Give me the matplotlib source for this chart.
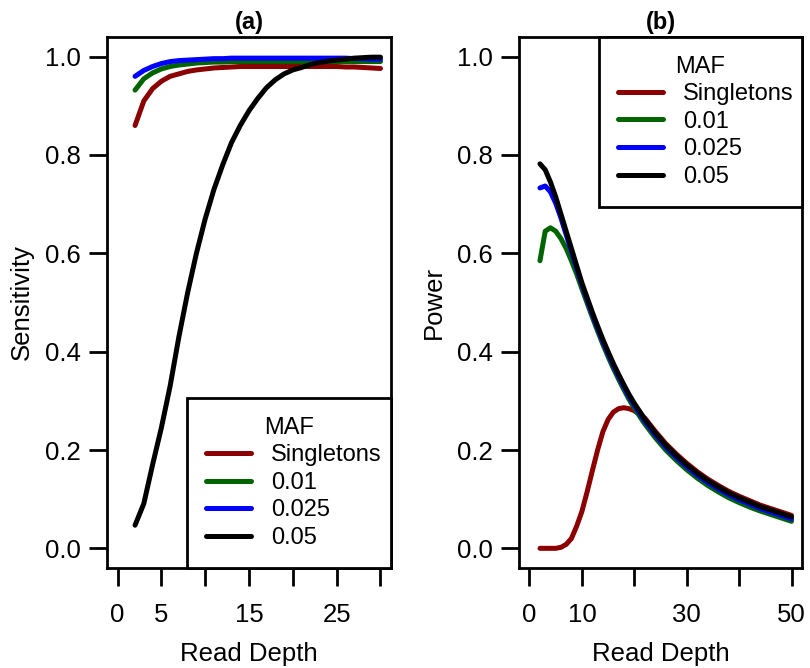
import matplotlib
matplotlib.use("Agg")
import matplotlib.pyplot as plt

plt.rcParams["font.family"] = ["Liberation Sans", "DejaVu Sans"]
plt.rcParams["font.size"] = 18.5

# ---- panel (a): sensitivity vs read depth ----
depth_a = list(range(2, 31))
sens_single = [0.860, 0.910, 0.935, 0.950, 0.960, 0.965, 0.970, 0.973, 0.975, 0.977,
               0.978, 0.979, 0.980, 0.980, 0.980, 0.980, 0.980, 0.980, 0.980, 0.980,
               0.980, 0.980, 0.980, 0.980, 0.979, 0.979, 0.978, 0.977, 0.976]
sens_001 = [0.932, 0.955, 0.967, 0.975, 0.980, 0.983, 0.985, 0.987, 0.988, 0.989,
            0.989, 0.990, 0.990, 0.990, 0.990, 0.990, 0.990, 0.990, 0.990, 0.990,
            0.990, 0.990, 0.990, 0.990, 0.990, 0.990, 0.990, 0.990, 0.990]
sens_0025 = [0.960, 0.972, 0.980, 0.986, 0.990, 0.992, 0.993, 0.994, 0.995, 0.996,
             0.996, 0.997, 0.997, 0.997, 0.997, 0.997, 0.997, 0.997, 0.997, 0.997,
             0.997, 0.997, 0.997, 0.997, 0.997, 0.996, 0.996, 0.995, 0.995]
sens_005 = [0.047, 0.091, 0.170, 0.245, 0.330, 0.430, 0.520, 0.600, 0.670, 0.730,
            0.780, 0.825, 0.860, 0.890, 0.915, 0.937, 0.953, 0.965, 0.973, 0.978,
            0.984, 0.988, 0.991, 0.993, 0.995, 0.997, 0.998, 0.999, 0.999]

# ---- panel (b): power vs read depth ----
depth_b = list(range(2, 21)) + list(range(22, 51, 2))
pow_single = [0.000, 0.000, 0.000, 0.000, 0.002, 0.008, 0.020, 0.045, 0.075, 0.115,
              0.158, 0.200, 0.237, 0.262, 0.277, 0.284, 0.286, 0.284, 0.280,
              0.265, 0.238, 0.213, 0.192, 0.173, 0.156, 0.141, 0.128, 0.116, 0.106,
              0.097, 0.088, 0.081, 0.074, 0.067]
pow_001 = [0.585, 0.645, 0.652, 0.645, 0.630, 0.610, 0.585, 0.558, 0.528, 0.499,
           0.470, 0.442, 0.415, 0.390, 0.366, 0.344, 0.323, 0.303, 0.285,
           0.253, 0.225, 0.200, 0.179, 0.160, 0.143, 0.128, 0.115, 0.103, 0.093,
           0.084, 0.076, 0.069, 0.062, 0.055]
pow_0025 = [0.733, 0.737, 0.725, 0.702, 0.672, 0.638, 0.604, 0.570, 0.536, 0.506,
            0.476, 0.448, 0.421, 0.396, 0.372, 0.350, 0.329, 0.309, 0.291,
            0.259, 0.231, 0.206, 0.185, 0.166, 0.149, 0.134, 0.121, 0.109, 0.099,
            0.090, 0.081, 0.074, 0.067, 0.060]
pow_005 = [0.782, 0.770, 0.745, 0.715, 0.680, 0.645, 0.610, 0.575, 0.540, 0.510,
           0.480, 0.452, 0.425, 0.400, 0.376, 0.354, 0.333, 0.313, 0.295,
           0.263, 0.235, 0.210, 0.189, 0.170, 0.153, 0.138, 0.125, 0.113, 0.103,
           0.094, 0.085, 0.078, 0.071, 0.064]

labels = ["Singletons", "0.01", "0.025", "0.05"]
colors = ["#8B0000", "#006400", "#0000FF", "#000000"]

fig = plt.figure(figsize=(8.1, 6.68), dpi=100)
ax1 = fig.add_axes([107 / 810, 1 - 568 / 668, 284 / 810, 531 / 668])
ax2 = fig.add_axes([519 / 810, 1 - 568 / 668, 283 / 810, 531 / 668])


def style(ax, xticks, xlabels):
    for s in ax.spines.values():
        s.set_linewidth(2)
    ax.set_ylim(-0.04, 1.04)
    ax.set_yticks([0, 0.2, 0.4, 0.6, 0.8, 1.0])
    ax.set_yticklabels(["0.0", "0.2", "0.4", "0.6", "0.8", "1.0"])
    ax.set_xticks(xticks)
    ax.set_xticklabels(xlabels)
    ax.tick_params(length=13, width=2, direction="out")
    ax.tick_params(axis="x", pad=12)
    ax.tick_params(axis="y", pad=6)
    ax.set_xlabel("Read Depth", labelpad=11)


for ys, lab, c in zip([sens_single, sens_001, sens_0025, sens_005], labels, colors):
    ax1.plot(depth_a, ys, color=c, lw=3.6, label=lab, solid_capstyle="round")
ax1.set_xlim(-1.2, 31.2)
style(ax1, [0, 5, 10, 15, 20, 25, 30], ["0", "5", "", "15", "", "25", ""])
ax1.set_ylabel("Sensitivity", labelpad=8)
ax1.set_title("(a)", fontweight="bold", fontsize=17, pad=6)

for ys, lab, c in zip([pow_single, pow_001, pow_0025, pow_005], labels, colors):
    ax2.plot(depth_b, ys, color=c, lw=3.6, label=lab, solid_capstyle="round")
ax2.set_xlim(-2, 52)
style(ax2, [0, 10, 20, 30, 40, 50], ["0", "10", "", "30", "", "50"])
ax2.set_ylabel("Power", labelpad=8)
ax2.set_title("(b)", fontweight="bold", fontsize=17, pad=6)

legend_kw = dict(title="MAF", fancybox=False, edgecolor="black", framealpha=1,
                 borderaxespad=0, handlelength=1.9, handletextpad=0.85,
                 labelspacing=0.24, borderpad=0.8, mode="expand",
                 fontsize=17, title_fontsize=17)
leg1 = ax1.legend(loc="lower left", bbox_to_anchor=(0.282, 0.0, 0.718, 1.0), **legend_kw)
leg2 = ax2.legend(loc="upper left", bbox_to_anchor=(0.283, 0.0, 0.717, 1.0), **legend_kw)
for leg in (leg1, leg2):
    leg.get_frame().set_linewidth(2)
    leg._legend_box.sep = 3.6
    for h in leg.legend_handles:
        h.set_linewidth(3.6)

fig.savefig("out.png", dpi=100)
